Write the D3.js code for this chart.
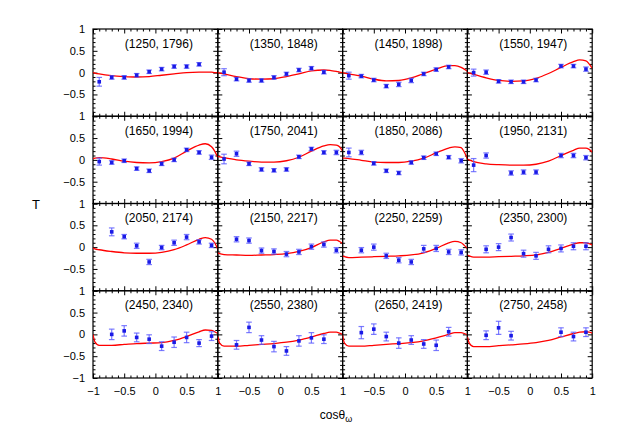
<!DOCTYPE html>
<html><head><meta charset="utf-8">
<script src="https://cdn.jsdelivr.net/npm/d3@7"></script>
<style>body{margin:0;background:#fff;} text{font-family:"Liberation Sans",Arial,Helvetica,sans-serif;}</style>
</head><body><svg id="c" width="623" height="436"></svg>
<script>
const panelTitles = ["(1250, 1796)","(1350, 1848)","(1450, 1898)","(1550, 1947)",
  "(1650, 1994)","(1750, 2041)","(1850, 2086)","(1950, 2131)",
  "(2050, 2174)","(2150, 2217)","(2250, 2259)","(2350, 2300)",
  "(2450, 2340)","(2550, 2380)","(2650, 2419)","(2750, 2458)"];
const pointX = [-0.9,-0.7,-0.5,-0.3,-0.1,0.1,0.3,0.5,0.7,0.9];
const pointY = [
  [-0.21,-0.11,-0.11,-0.06,0.02,0.08,0.14,0.14,0.19,null],
  [0.01,-0.15,-0.18,-0.18,-0.11,-0.03,0.06,0.10,0.01,null],
  [-0.07,-0.08,-0.17,-0.31,-0.27,-0.18,-0.03,0.07,0.13,null],
  [0.0,0.01,-0.2,-0.21,-0.21,-0.17,null,0.15,0.15,0.08],
  [-0.04,-0.06,-0.02,-0.2,-0.25,-0.09,0.0,0.23,0.17,0.06],
  [0.02,0.14,-0.09,-0.22,-0.24,-0.22,0.07,0.25,0.17,0.17],
  [0.17,0.17,-0.08,-0.25,-0.3,-0.06,0.05,0.14,0.06,-0.02],
  [-0.12,0.1,null,-0.3,-0.28,-0.28,null,0.1,0.1,0.05],
  [null,0.35,0.24,0.03,-0.34,-0.01,0.10,0.23,0.12,0.04],
  [null,0.18,0.15,-0.08,-0.10,-0.16,-0.11,0.01,0.06,-0.07],
  [null,-0.07,0.0,-0.2,-0.3,-0.34,-0.04,-0.03,-0.11,-0.12],
  [null,-0.05,0.0,0.22,-0.15,-0.2,-0.05,-0.03,0.02,0.02],
  [null,0.0,0.08,-0.07,-0.11,-0.27,-0.18,-0.07,-0.2,-0.04],
  [null,-0.24,0.16,-0.13,-0.28,-0.38,-0.15,-0.08,-0.11,null],
  [null,0.04,0.12,-0.05,-0.2,-0.13,-0.22,-0.25,0.06,null],
  [null,-0.02,0.15,-0.03,null,null,null,0.05,-0.05,0.05]
];
const pointErr = [
  [0.10,0.04,0.04,0.04,0.04,0.04,0.04,0.04,0.04,null],
  [0.08,0.04,0.04,0.04,0.04,0.04,0.04,0.04,0.04,null],
  [0.08,0.04,0.04,0.04,0.05,0.05,0.04,0.04,0.04,null],
  [0.08,0.05,0.04,0.04,0.04,0.04,null,0.04,0.04,0.05],
  [0.08,0.04,0.04,0.04,0.04,0.04,0.04,0.04,0.04,0.05],
  [0.11,0.06,0.04,0.04,0.04,0.04,0.04,0.04,0.04,0.05],
  [0.10,0.05,0.04,0.04,0.04,0.04,0.04,0.04,0.04,0.05],
  [0.15,0.06,null,0.05,0.05,0.05,null,0.05,0.05,0.05],
  [null,0.09,0.05,0.06,0.06,0.05,0.06,0.06,0.05,0.05],
  [null,0.06,0.06,0.06,0.06,0.06,0.06,0.06,0.06,0.06],
  [null,0.06,0.07,0.06,0.06,0.06,0.08,0.07,0.06,0.06],
  [null,0.08,0.08,0.08,0.08,0.08,0.08,0.08,0.08,0.08],
  [null,0.12,0.12,0.10,0.10,0.10,0.12,0.12,0.08,0.10],
  [null,0.10,0.12,0.10,0.12,0.10,0.12,0.12,0.10,null],
  [null,0.14,0.12,0.10,0.12,0.10,0.10,0.12,0.10,null],
  [null,0.10,0.15,0.10,null,null,null,0.10,0.10,0.10]
];
const curveX = [-1,-0.97,-0.9,-0.7,-0.5,-0.3,-0.1,0.1,0.3,0.5,0.7,0.8,0.9,0.95,1];
const curveY = [
  [0.0,-0.01,-0.03,-0.07,-0.09,-0.1,-0.09,-0.06,-0.03,0.0,0.01,0.01,0.01,0.0,0.0],
  [0.0,-0.01,-0.03,-0.09,-0.14,-0.15,-0.14,-0.09,-0.03,0.04,0.06,0.05,0.03,0.01,0.0],
  [0.0,-0.01,-0.03,-0.08,-0.15,-0.19,-0.18,-0.12,-0.02,0.08,0.16,0.16,0.12,0.08,0.03],
  [0.0,-0.01,-0.04,-0.12,-0.18,-0.2,-0.19,-0.13,-0.02,0.12,0.25,0.29,0.27,0.2,0.1],
  [0.03,0.04,0.05,0.02,-0.03,-0.06,-0.07,-0.04,0.04,0.2,0.34,0.37,0.3,0.2,0.05],
  [0.08,0.07,0.05,0.0,-0.03,-0.05,-0.05,-0.02,0.06,0.2,0.32,0.35,0.34,0.3,0.2],
  [0.04,0.04,0.03,-0.01,-0.05,-0.06,-0.06,-0.03,0.04,0.16,0.27,0.3,0.28,0.18,0.02],
  [0.02,0.0,-0.04,-0.09,-0.11,-0.12,-0.12,-0.1,-0.03,0.1,0.22,0.27,0.27,0.24,0.18],
  [-0.02,-0.04,-0.06,-0.1,-0.13,-0.14,-0.14,-0.12,-0.06,0.05,0.18,0.22,0.18,0.1,-0.05],
  [-0.13,-0.15,-0.17,-0.18,-0.19,-0.18,-0.17,-0.15,-0.1,-0.01,0.12,0.16,0.16,0.13,0.08],
  [-0.2,-0.22,-0.24,-0.23,-0.22,-0.21,-0.2,-0.18,-0.13,-0.03,0.1,0.13,0.1,0.04,-0.03],
  [-0.18,-0.2,-0.23,-0.23,-0.22,-0.21,-0.2,-0.18,-0.12,-0.03,0.07,0.1,0.1,0.08,0.05],
  [0.0,-0.17,-0.25,-0.25,-0.23,-0.21,-0.2,-0.19,-0.14,-0.05,0.06,0.1,0.09,0.06,0.02],
  [-0.05,-0.2,-0.27,-0.27,-0.25,-0.23,-0.21,-0.18,-0.13,-0.06,0.02,0.05,0.05,0.03,0.0],
  [-0.02,-0.2,-0.27,-0.27,-0.25,-0.23,-0.21,-0.19,-0.15,-0.08,0.0,0.04,0.04,0.02,-0.01],
  [-0.05,-0.2,-0.28,-0.28,-0.26,-0.24,-0.22,-0.19,-0.14,-0.06,0.02,0.05,0.06,0.05,0.03]
];
const xTickLabels = [-1,-0.5,0,0.5,1];
const yTickLabels = [1,0.5,0,-0.5,-1];

const svg = d3.select("#c");
const leftX = 93, topY = 29, W = 124.8, H = 87.25, nCols = 4, nRows = 4;
const majorT = [-1,-0.5,0,0.5,1];
const minorT = d3.range(-10,11).map(d=>d/10).filter(d=>Math.abs(d*2-Math.round(d*2))>1e-6);
const fmt = d3.format("");

for (let i = 0; i < 16; i++) {
  const r = Math.floor(i / nCols), c = i % nCols;
  const x = d3.scaleLinear().domain([-1,1]).range([leftX + c*W, leftX + (c+1)*W]);
  const y = d3.scaleLinear().domain([-1,1]).range([topY + (r+1)*H, topY + r*H]);
  const g = svg.append("g");
  const clipId = "clip" + i;
  g.append("clipPath").attr("id", clipId).append("rect")
    .attr("x", x(-1)).attr("y", y(1)).attr("width", x(1)-x(-1)).attr("height", y(-1)-y(1));

  const tickGroups = [
    [() => d3.axisBottom(x), y(-1), 0],
    [() => d3.axisTop(x), y(1), 0],
    [() => d3.axisLeft(y), x(-1), 1],
    [() => d3.axisRight(y), x(1), 1]
  ];
  tickGroups.forEach(([mk, pos, vert]) => {
    [[majorT, 4.5],[minorT, 2.5]].forEach(([vals, len]) => {
      const a = mk().tickValues(vals).tickSize(-len).tickFormat("");
      const gg = g.append("g").attr("transform", vert ? `translate(${pos},0)` : `translate(0,${pos})`).call(a);
      gg.select(".domain").remove();
      gg.selectAll("line").attr("stroke","#000").attr("stroke-width",1);
    });
  });

  g.append("rect").attr("x", x(-1)).attr("y", y(1)).attr("width", x(1)-x(-1)).attr("height", y(-1)-y(1))
    .attr("fill","none").attr("stroke","#000").attr("stroke-width",1.2);

  if (r === nRows - 1) {
    const vals = c === 0 ? xTickLabels : xTickLabels.slice(1);
    const gx = g.append("g").attr("transform", `translate(0,${y(-1)})`)
      .call(d3.axisBottom(x).tickValues(vals).tickSize(0).tickPadding(9).tickFormat(fmt));
    gx.select(".domain").remove();
    gx.selectAll("text").attr("font-size", 11).attr("fill","#000")
      .attr("font-family", '"Liberation Sans",Arial,sans-serif');
  }
  if (c === 0) {
    const vals = r === nRows - 1 ? yTickLabels : yTickLabels.slice(0, 4);
    const gy = g.append("g").attr("transform", `translate(${x(-1)},0)`)
      .call(d3.axisLeft(y).tickValues(vals).tickSize(0).tickPadding(8).tickFormat(fmt));
    gy.select(".domain").remove();
    gy.selectAll("text").attr("font-size", 11).attr("fill","#000")
      .attr("font-family", '"Liberation Sans",Arial,sans-serif');
  }

  g.append("text").attr("x", (x(-1)+x(1))/2 + 3.5).attr("y", y(1) + 18.5)
    .attr("text-anchor","middle").attr("font-size", 12).attr("fill","#000").text(panelTitles[i]);

  const cdata = curveX.map((cx, k) => [cx, curveY[i][k]]);
  g.append("path").datum(cdata).attr("clip-path", `url(#${clipId})`)
    .attr("fill","none").attr("stroke","#ff0000").attr("stroke-width",1.3)
    .attr("d", d3.line().x(d=>x(d[0])).y(d=>y(d[1])).curve(d3.curveMonotoneX));

  const pdata = pointX.map((px, k) => ({x: px, y: pointY[i][k], e: pointErr[i][k]})).filter(d => d.y !== null);
  const pg = g.append("g");
  const cap = 2.8;
  pdata.forEach(d => {
    const X = x(d.x), y0 = y(d.y - d.e), y1 = y(d.y + d.e);
    pg.append("line").attr("x1",X).attr("x2",X).attr("y1",y0).attr("y2",y1)
      .attr("stroke","#5a5aff").attr("stroke-opacity",0.8).attr("stroke-width",1.2);
    [y0,y1].forEach(yy => pg.append("line").attr("x1",X-cap).attr("x2",X+cap).attr("y1",yy).attr("y2",yy)
      .attr("stroke","#5a5aff").attr("stroke-opacity",0.8).attr("stroke-width",1.2));
    pg.append("rect").attr("x",X-1.8).attr("y",y(d.y)-1.8).attr("width",3.6).attr("height",3.6)
      .attr("fill","#1a1ae6");
  });
}

svg.append("text").attr("x", 36).attr("y", 209).attr("text-anchor","middle")
  .attr("font-size", 13).attr("fill","#000").text("T");
const xt = svg.append("text").attr("x", 336).attr("y", 419).attr("text-anchor","middle")
  .attr("font-size", 12).attr("fill","#000");
xt.append("tspan").text("cosθ");
xt.append("tspan").attr("font-size", 9).attr("dy", 3).text("ω");
</script></body></html>
